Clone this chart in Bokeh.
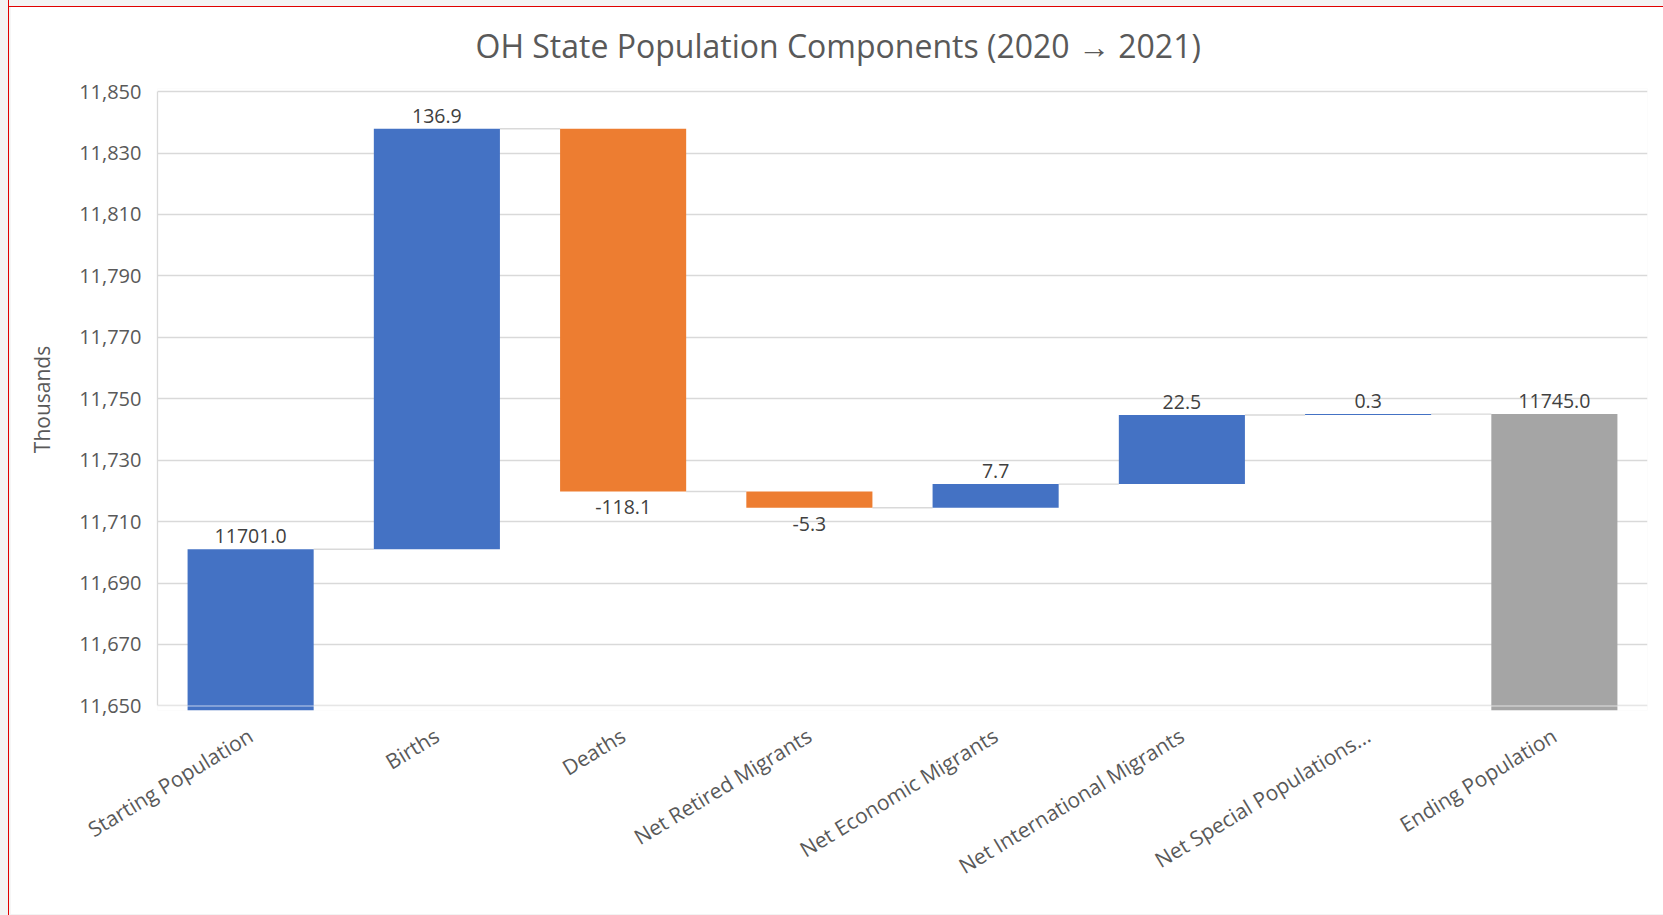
from bokeh.plotting import figure
from bokeh.models import ColumnDataSource, Range1d, FactorRange, FixedTicker, NumeralTickFormatter, Span
from bokeh.embed import file_html
from bokeh.resources import INLINE

# ---- data ----
title_text = "OH State Population Components (2020 \u2192 2021)"
categories = ["Starting Population", "Births", "Deaths", "Net Retired Migrants",
              "Net Economic Migrants", "Net International Migrants",
              "Net Special Populations...", "Ending Population"]
values = [11701.0, 136.9, -118.1, -5.3, 7.7, 22.5, 0.3, 11745.0]
kinds = ["start", "delta", "delta", "delta", "delta", "delta", "delta", "total"]
y_ticks = [11650, 11670, 11690, 11710, 11730, 11750, 11770, 11790, 11810, 11830, 11850]

BLUE, ORANGE, GRAY = "#4472C4", "#ED7D31", "#A5A5A5"
Y0, Y1 = 11648.5, 11851.0
FONT = "Open Sans"

# ---- waterfall geometry from data ----
bottoms, tops, colors, label_y, label_txt, label_off, levels = [], [], [], [], [], [], []
running = 0.0
for cat, v, k in zip(categories, values, kinds):
    if k in ("start", "total"):
        b, t = Y0, v
        running = v
        colors.append(BLUE if k == "start" else GRAY)
        label_y.append(t); label_off.append(-13)
    else:
        b0, t0 = running, running + v
        running = t0
        b, t = min(b0, t0), max(b0, t0)
        colors.append(BLUE if v >= 0 else ORANGE)
        if v >= 0:
            label_y.append(t); label_off.append(-13)
        else:
            label_y.append(b); label_off.append(16)
    bottoms.append(b); tops.append(t)
    label_txt.append(f"{v:.1f}")
    levels.append(running)

half = 0.3385
src = ColumnDataSource(dict(x=categories, bottom=bottoms, top=tops, color=colors))
lab = ColumnDataSource(dict(x=categories, y=label_y, text=label_txt, off=label_off))
con = ColumnDataSource(dict(
    x0=[(c, half) for c in categories[:-1]],
    x1=[(c, -half) for c in categories[1:]],
    y=levels[:-1]))

p = figure(x_range=FactorRange(*categories, range_padding=0),
           y_range=Range1d(Y0, Y1),
           width=1653, height=914, output_backend="svg", toolbar_location=None,
           min_border_left=147, min_border_right=16, min_border_top=10, min_border_bottom=204,
           title=title_text)
p.outline_line_color = None
p.background_fill_color = "white"
p.border_fill_color = "white"

p.title.align = "left"
p.title.offset = 318
p.title.standoff = 43
p.title.text_font = FONT
p.title.text_font_size = "32px"
p.title.text_font_style = "normal"
p.title.text_color = "#595959"

# grid
p.xgrid.grid_line_color = None
p.ygrid.grid_line_color = "#d9d9d9"
p.ygrid.grid_line_width = 1.3
p.ygrid.ticker = FixedTicker(ticks=y_ticks)

# y axis
p.yaxis.ticker = FixedTicker(ticks=y_ticks)
p.yaxis.formatter = NumeralTickFormatter(format="0,0")
p.yaxis.bounds = (y_ticks[0], y_ticks[-1])
p.yaxis.axis_line_color = "#d9d9d9"
p.yaxis.axis_line_width = 1.3
p.yaxis.major_tick_line_color = None
p.yaxis.minor_tick_line_color = None
p.yaxis.major_tick_out = 0
p.yaxis.minor_tick_out = 0
p.yaxis.major_label_standoff = 16
p.yaxis.major_label_text_font = FONT
p.yaxis.major_label_text_font_size = "20px"
p.yaxis.major_label_text_color = "#595959"
p.yaxis.axis_label = "Thousands"
p.yaxis.axis_label_text_font = FONT
p.yaxis.axis_label_text_font_size = "21px"
p.yaxis.axis_label_text_font_style = "normal"
p.yaxis.axis_label_text_color = "#595959"
p.yaxis.axis_label_standoff = 20

# x axis
p.xaxis.axis_line_color = None
p.xaxis.major_tick_line_color = None
p.xaxis.minor_tick_line_color = None
p.xaxis.major_tick_out = 0
p.xaxis.minor_tick_out = 0
p.xaxis.major_label_orientation = 0.545
p.xaxis.major_label_standoff = 23
p.xaxis.major_label_text_font = FONT
p.xaxis.major_label_text_font_size = "21px"
p.xaxis.major_label_text_color = "#595959"

# connectors
p.segment(x0="x0", y0="y", x1="x1", y1="y", source=con, line_color="#d9d9d9", line_width=1.3)

# bars
p.vbar(x="x", bottom="bottom", top="top", width=2 * half, fill_color="color",
       line_color=None, source=src)

# bottom axis line drawn over clipped bars
p.add_layout(Span(location=y_ticks[0], dimension="width", line_color="#ffffff",
                  line_alpha=0.45, line_width=1.5))

# data labels
p.text(x="x", y="y", text="text", y_offset="off", source=lab,
       text_align="center", text_baseline="middle",
       text_font={"value": FONT}, text_font_size="19.5px", text_color="#404040")

html = file_html(p, INLINE, title="OH State Population Components")
css = ("<style>html, body { margin:0 !important; background:#f3f3f3 !important; overflow:hidden; }"
       " body { padding:0 0 0 9.5px !important; box-sizing:border-box; }"
       " body::before { content:''; position:fixed; left:0; top:0; width:100%; height:6px;"
       " background:#f3f3f3; border-bottom:1.5px solid #e00000; z-index:1000; }"
       " body::after { content:''; position:fixed; left:0; top:0; width:8px; height:100%;"
       " background:#f3f3f3; border-right:1.5px solid #e00000; z-index:1000; }</style>")
html = html.replace("</head>", css + "</head>", 1)
open("out.html", "w").write(html)
